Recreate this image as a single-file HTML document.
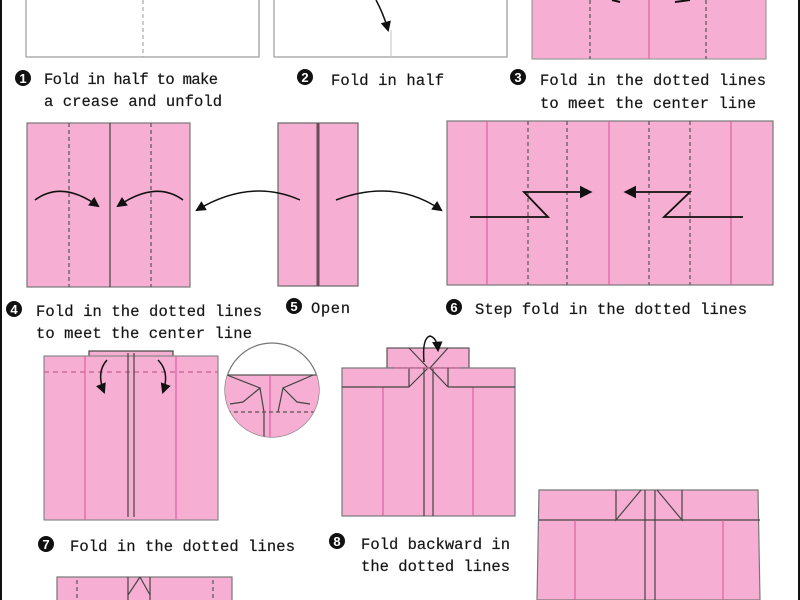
<!DOCTYPE html>
<html><head><meta charset="utf-8"><style>
html,body{margin:0;padding:0;background:#fff;width:800px;height:600px;overflow:hidden}
svg{display:block}
text{font-family:"Liberation Mono",monospace;font-size:15.5px;fill:#111;stroke:#444;stroke-width:0.3}
.n{font-family:"Liberation Sans",sans-serif;font-weight:bold;font-size:13px;fill:#fff;stroke:none;text-anchor:middle}
</style></head><body>
<svg width="800" height="600" viewBox="0 0 800 600" xmlns="http://www.w3.org/2000/svg">
<defs>
<marker id="ah" viewBox="0 0 10 10" refX="8" refY="5" markerWidth="7" markerHeight="7" orient="auto"><path d="M0,0 L10,5 L0,10 z" fill="#111"/></marker>
</defs>
<rect x="0" y="0" width="2" height="600" fill="#111"/>
<rect x="798" y="0" width="2" height="600" fill="#111"/>
<g stroke-width="1.2">
<rect x="26" y="-2" width="233" height="59" fill="#fff" stroke="#999"/>
<line x1="143" y1="0" x2="143" y2="57" stroke="#aaa" stroke-dasharray="4,3"/>
<rect x="274" y="-2" width="233" height="59" fill="#fff" stroke="#999"/>
<line x1="391" y1="30" x2="391" y2="57" stroke="#ccc"/>
<path d="M376,0 Q384,15 388,30" fill="none" stroke="#111" stroke-width="1.5" marker-end="url(#ah)"/>
<rect x="532" y="-2" width="234" height="61" fill="#f7aed3" stroke="#999"/>
<line x1="590" y1="0" x2="590" y2="59" stroke="#555" stroke-dasharray="4,3"/>
<line x1="649" y1="0" x2="649" y2="59" stroke="#e0609f"/>
<line x1="706" y1="0" x2="706" y2="59" stroke="#555" stroke-dasharray="4,3"/>
<path d="M612,0 L620,2 M675,2 L690,0" stroke="#111" stroke-width="2"/>
</g>
<circle cx="23" cy="78" r="8" fill="#111"/><text class="n" x="23" y="83">1</text>
<text x="44" y="84" textLength="174">Fold in half to make</text>
<text x="44" y="106" textLength="178">a crease and unfold</text>
<circle cx="305" cy="77" r="8" fill="#111"/><text class="n" x="305" y="82">2</text>
<text x="331" y="85" textLength="113">Fold in half</text>
<circle cx="518" cy="77" r="8" fill="#111"/><text class="n" x="518" y="82">3</text>
<text x="540" y="85" textLength="226">Fold in the dotted lines</text>
<text x="540" y="108" textLength="216">to meet the center line</text>

<g stroke-width="1.2">
<rect x="27" y="123" width="163" height="164" fill="#f7aed3" stroke="#777"/>
<line x1="69" y1="123" x2="69" y2="287" stroke="#555" stroke-dasharray="4,3"/>
<line x1="151" y1="123" x2="151" y2="287" stroke="#555" stroke-dasharray="4,3"/>
<line x1="110" y1="123" x2="110" y2="287" stroke="#444"/>
<path d="M35,200 Q62,180 98,206" fill="none" stroke="#111" stroke-width="1.5" marker-end="url(#ah)"/>
<path d="M183,200 Q156,180 118,206" fill="none" stroke="#111" stroke-width="1.5" marker-end="url(#ah)"/>
<rect x="278" y="123" width="80" height="163" fill="#f7aed3" stroke="#666"/>
<line x1="318" y1="123" x2="318" y2="286" stroke="#6b4a5a" stroke-width="3"/>
<path d="M300,200 Q250,178 197,210" fill="none" stroke="#111" stroke-width="1.5" marker-end="url(#ah)"/>
<path d="M336,200 Q395,178 441,210" fill="none" stroke="#111" stroke-width="1.5" marker-end="url(#ah)"/>
<rect x="447" y="121" width="326" height="164" fill="#f7aed3" stroke="#777"/>
<line x1="487" y1="121" x2="487" y2="285" stroke="#e0609f"/>
<line x1="609" y1="121" x2="609" y2="285" stroke="#e0609f"/>
<line x1="731" y1="121" x2="731" y2="285" stroke="#e0609f"/>
<line x1="528" y1="121" x2="528" y2="285" stroke="#555" stroke-dasharray="4,3"/>
<line x1="567" y1="121" x2="567" y2="285" stroke="#555" stroke-dasharray="4,3"/>
<line x1="649" y1="121" x2="649" y2="285" stroke="#555" stroke-dasharray="4,3"/>
<line x1="690" y1="121" x2="690" y2="285" stroke="#555" stroke-dasharray="4,3"/>
<path d="M470,217 L548,217 L524,192 L590,192" fill="none" stroke="#111" stroke-width="1.8" marker-end="url(#ah)"/>
<path d="M743,217 L664,217 L690,192 L626,192" fill="none" stroke="#111" stroke-width="1.8" marker-end="url(#ah)"/>
</g>
<circle cx="14" cy="309" r="8" fill="#111"/><text class="n" x="14" y="314">4</text>
<text x="36" y="316" textLength="226">Fold in the dotted lines</text>
<text x="36" y="338" textLength="216">to meet the center line</text>
<circle cx="294" cy="306" r="8" fill="#111"/><text class="n" x="294" y="311">5</text>
<text x="311" y="313" textLength="39">Open</text>
<circle cx="454" cy="307" r="8" fill="#111"/><text class="n" x="454" y="312">6</text>
<text x="475" y="314" textLength="272">Step fold in the dotted lines</text>

<g stroke-width="1.2">
<rect x="89" y="351" width="84" height="6" fill="#f7aed3" stroke="#444"/>
<rect x="44" y="356" width="174" height="164" fill="#f7aed3" stroke="#888"/>
<line x1="44" y1="372" x2="218" y2="372" stroke="#d06a9a" stroke-dasharray="5,4" stroke-width="1.5"/>
<line x1="85" y1="356" x2="85" y2="520" stroke="#e0609f"/>
<line x1="176" y1="356" x2="176" y2="520" stroke="#e0609f"/>
<line x1="128" y1="353" x2="128" y2="517" stroke="#444"/>
<line x1="134" y1="353" x2="134" y2="517" stroke="#444"/>
<path d="M107,360 Q96,372 104,392" fill="none" stroke="#111" stroke-width="1.5" marker-end="url(#ah)"/>
<path d="M158,360 Q170,372 163,392" fill="none" stroke="#111" stroke-width="1.5" marker-end="url(#ah)"/>
<clipPath id="cc"><ellipse cx="272" cy="390" rx="47" ry="47"/></clipPath>
<ellipse cx="272" cy="390" rx="47" ry="47" fill="#fff" stroke="#777"/>
<g clip-path="url(#cc)">
<rect x="220" y="375" width="110" height="70" fill="#f7aed3"/>
<line x1="220" y1="375" x2="330" y2="375" stroke="#555"/>
<line x1="270" y1="375" x2="270" y2="440" stroke="#e0609f"/>
<path d="M227,375 L260,388 L243,402 L230,404 M260,388 L264,412 L264,440" fill="none" stroke="#444"/>
<path d="M313,375 L283,388 L297,402 L310,404 M283,388 L278,412" fill="none" stroke="#444"/>
<line x1="220" y1="412" x2="320" y2="412" stroke="#555" stroke-dasharray="4,3"/>
</g>
<rect x="387" y="348" width="82" height="20" fill="#f7aed3" stroke="#555"/>
<rect x="342" y="368" width="173" height="148" fill="#f7aed3" stroke="#777"/>
<line x1="383" y1="387" x2="383" y2="516" stroke="#e0609f"/>
<line x1="473" y1="387" x2="473" y2="516" stroke="#e0609f"/>
<line x1="342" y1="387" x2="409" y2="387" stroke="#444"/>
<line x1="448" y1="387" x2="515" y2="387" stroke="#444"/>
<path d="M409,387 L409,368 M409,348 L428,368 L409,387 M448,387 L448,368 M448,348 L430,368 L448,387" fill="none" stroke="#444"/>
<line x1="424" y1="368" x2="424" y2="516" stroke="#444"/>
<line x1="433" y1="368" x2="433" y2="516" stroke="#444"/>
<line x1="395" y1="368" x2="460" y2="368" stroke="#e0609f" stroke-dasharray="4,2"/>
<path d="M424,362 Q422,338 430,336 Q437,338 438,350" fill="none" stroke="#111" stroke-width="1.5" marker-end="url(#ah)"/>
<path d="M539,490 L758,490 L760,600 L537,600 Z" fill="#f7aed3" stroke="#777"/>
<line x1="539" y1="520" x2="760" y2="520" stroke="#444"/>
<line x1="575" y1="520" x2="575" y2="600" stroke="#e0609f"/>
<line x1="723" y1="520" x2="723" y2="600" stroke="#e0609f"/>
<path d="M616,490 L616,520 L641,490 M682,490 L682,520 L657,490" fill="none" stroke="#444"/>
<line x1="645" y1="490" x2="645" y2="600" stroke="#444"/>
<line x1="655" y1="490" x2="655" y2="600" stroke="#444"/>
<rect x="57" y="577" width="175" height="30" fill="#f7aed3" stroke="#777"/>
<path d="M128,577 L128,600 M140,577 L128,595 M150,577 L150,600 M140,577 L150,595" fill="none" stroke="#444"/>
<line x1="77" y1="580" x2="77" y2="600" stroke="#555" stroke-dasharray="4,3"/>
<line x1="213" y1="580" x2="213" y2="600" stroke="#555" stroke-dasharray="4,3"/>
</g>
<circle cx="46" cy="544" r="8" fill="#111"/><text class="n" x="46" y="549">7</text>
<text x="70" y="551" textLength="225">Fold in the dotted lines</text>
<circle cx="337" cy="541" r="8" fill="#111"/><text class="n" x="337" y="546">8</text>
<text x="361" y="549" textLength="149">Fold backward in</text>
<text x="361" y="571" textLength="149">the dotted lines</text>
</svg>
</body></html>
